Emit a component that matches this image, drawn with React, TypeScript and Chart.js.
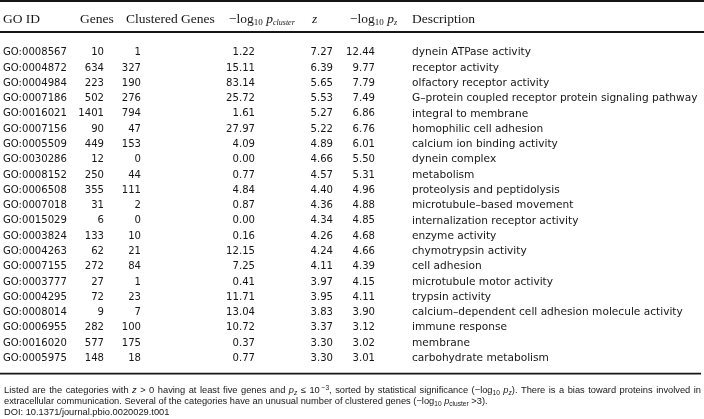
import { useEffect, useRef } from "react";
import { Chart, registerables } from "chart.js";

Chart.register(...registerables);

const goIds = [
  "GO:0008567", "GO:0004872", "GO:0004984", "GO:0007186", "GO:0016021", "GO:0007156", "GO:0005509",
  "GO:0030286", "GO:0008152", "GO:0006508", "GO:0007018", "GO:0015029", "GO:0003824", "GO:0004263",
  "GO:0007155", "GO:0003777", "GO:0004295", "GO:0008014", "GO:0006955", "GO:0016020", "GO:0005975",
];
const genes = [10, 634, 223, 502, 1401, 90, 449, 12, 250, 355, 31, 6, 133, 62, 272, 27, 72, 9, 282, 577, 148];
const clusteredGenes = [1, 327, 190, 276, 794, 47, 153, 0, 44, 111, 2, 0, 10, 21, 84, 1, 23, 7, 100, 175, 18];
const logPCluster = [1.22, 15.11, 83.14, 25.72, 1.61, 27.97, 4.09, 0.0, 0.77, 4.84, 0.87, 0.0, 0.16, 12.15, 7.25, 0.41, 11.71, 13.04, 10.72, 0.37, 0.77];
const zScores = [7.27, 6.39, 5.65, 5.53, 5.27, 5.22, 4.89, 4.66, 4.57, 4.4, 4.36, 4.34, 4.26, 4.24, 4.11, 3.97, 3.95, 3.83, 3.37, 3.3, 3.3];
const logPz = [12.44, 9.77, 7.79, 7.49, 6.86, 6.76, 6.01, 5.5, 5.31, 4.96, 4.88, 4.85, 4.68, 4.66, 4.39, 4.15, 4.11, 3.9, 3.12, 3.02, 3.01];
const descriptions = [
  "dynein ATPase activity",
  "receptor activity",
  "olfactory receptor activity",
  "G\u2013protein coupled receptor protein signaling pathway",
  "integral to membrane",
  "homophilic cell adhesion",
  "calcium ion binding activity",
  "dynein complex",
  "metabolism",
  "proteolysis and peptidolysis",
  "microtubule\u2013based movement",
  "internalization receptor activity",
  "enzyme activity",
  "chymotrypsin activity",
  "cell adhesion",
  "microtubule motor activity",
  "trypsin activity",
  "calcium\u2013dependent cell adhesion molecule activity",
  "immune response",
  "membrane",
  "carbohydrate metabolism",
];
const doiText = "DOI: 10.1371/journal.pbio.0020029.t001";

type Seg = { t: string; f: string; dy?: number };

const INK = "#161616";
const BODY = "10.1px 'DejaVu Sans'";
const BODY_DESC = "10.6px 'DejaVu Sans'";
const HS = 13.5;
const H = `${HS}px 'Liberation Serif'`;
const HI = `italic ${HS}px 'Liberation Serif'`;
const HSUB = "9px 'Liberation Serif'";
const HISUB = "italic 8px 'Liberation Serif'";
const FS = 9.3;
const FN = `${FS}px 'Liberation Sans'`;
const FNI = `italic ${FS}px 'Liberation Sans'`;
const FNS = "6.6px 'Liberation Sans'";
const FNSI = "italic 6.6px 'Liberation Sans'";

function segWidth(ctx: CanvasRenderingContext2D, segs: Seg[]) {
  let w = 0;
  for (const s of segs) {
    ctx.font = s.f;
    w += ctx.measureText(s.t).width;
  }
  return w;
}
function drawSegs(ctx: CanvasRenderingContext2D, segs: Seg[], x: number, y: number, align: "left" | "right" = "left") {
  let cx = align === "right" ? x - segWidth(ctx, segs) : x;
  ctx.textAlign = "left";
  ctx.textBaseline = "alphabetic";
  for (const s of segs) {
    ctx.font = s.f;
    ctx.fillText(s.t, cx, y + (s.dy || 0));
    cx += ctx.measureText(s.t).width;
  }
}
function drawJustified(ctx: CanvasRenderingContext2D, words: Seg[][], x0: number, x1: number, y: number) {
  const widths = words.map((w) => segWidth(ctx, w));
  const total = widths.reduce((a, b) => a + b, 0);
  const gap = (x1 - x0 - total) / (words.length - 1);
  let cx = x0;
  words.forEach((w, i) => {
    drawSegs(ctx, w, cx, y);
    cx += widths[i] + gap;
  });
}

const columns = [
  { values: goIds, anchor: 3, align: "left" as const, font: BODY, fmt: (v: any) => String(v) },
  { values: genes, anchor: 104, align: "right" as const, font: BODY, fmt: (v: any) => String(v) },
  { values: clusteredGenes, anchor: 141, align: "right" as const, font: BODY, fmt: (v: any) => String(v) },
  { values: logPCluster, anchor: 255, align: "right" as const, font: BODY, fmt: (v: any) => v.toFixed(2) },
  { values: zScores, anchor: 333, align: "right" as const, font: BODY, fmt: (v: any) => v.toFixed(2) },
  { values: logPz, anchor: 375, align: "right" as const, font: BODY, fmt: (v: any) => v.toFixed(2) },
  { values: descriptions, anchor: 412, align: "left" as const, font: BODY_DESC, fmt: (v: any) => String(v) },
];

const tablePlugin = {
  id: "tableText",
  beforeDraw(chart: any) {
    const ctx = chart.ctx;
    ctx.save();
    ctx.fillStyle = "#ffffff";
    ctx.fillRect(0, 0, chart.width, chart.height);
    ctx.restore();
  },
  afterDraw(chart: any) {
    const ctx: CanvasRenderingContext2D = chart.ctx;
    const xs = chart.scales.x;
    const ys = chart.scales.y;
    const X = (v: number) => xs.getPixelForValue(v);
    ctx.save();
    ctx.fillStyle = INK;
    ctx.strokeStyle = INK;

    // rules
    ctx.lineWidth = 2;
    ctx.beginPath();
    ctx.moveTo(X(0), 1);
    ctx.lineTo(X(704), 1);
    ctx.stroke();
    ctx.lineWidth = 1.8;
    ctx.beginPath();
    ctx.moveTo(X(0), 32);
    ctx.lineTo(X(704), 32);
    ctx.stroke();
    ctx.beginPath();
    ctx.moveTo(X(0), 373.7);
    ctx.lineTo(X(701), 373.7);
    ctx.stroke();

    // header
    const hy = 22.7;
    drawSegs(ctx, [{ t: "GO ID", f: H }], X(3), hy);
    drawSegs(ctx, [{ t: "Genes", f: H }], X(80), hy);
    drawSegs(ctx, [{ t: "Clustered Genes", f: H }], X(126), hy);
    drawSegs(ctx, [
      { t: "\u2212log", f: H },
      { t: "10", f: HSUB, dy: 2.5 },
      { t: " ", f: H },
      { t: "p", f: HI },
      { t: "cluster", f: HISUB, dy: 2 },
    ], X(229), hy);
    drawSegs(ctx, [{ t: "z", f: HI }], X(312), hy);
    drawSegs(ctx, [
      { t: "\u2212log", f: H },
      { t: "10", f: HSUB, dy: 2.5 },
      { t: " ", f: H },
      { t: "p", f: HI },
      { t: "z", f: HISUB, dy: 2 },
    ], X(350), hy);
    drawSegs(ctx, [{ t: "Description", f: H }], X(412), hy);

    // body cells
    ctx.textBaseline = "middle";
    goIds.forEach((_, i) => {
      const y = ys.getPixelForValue(i);
      columns.forEach((c) => {
        ctx.font = c.font;
        ctx.textAlign = c.align;
        ctx.fillText(c.fmt(c.values[i]), X(c.anchor), y);
      });
    });

    // footnote
    const w = (s: string) => s.split(" ").map((t) => [{ t, f: FN }] as Seg[]);
    const line1: Seg[][] = [
      ...w("Listed are the categories with"),
      [{ t: "z", f: FNI }],
      [{ t: ">", f: FN }],
      [{ t: "0", f: FN }],
      ...w("having at least five genes and"),
      [{ t: "p", f: FNI }, { t: "z", f: FNSI, dy: 2 }],
      [{ t: "\u2264", f: FN }],
      [{ t: "10", f: FN }, { t: " \u22123", f: FNS, dy: -3.5 }, { t: ",", f: FN }],
      ...w("sorted by statistical significance"),
      [{ t: "(\u2212log", f: FN }, { t: "10", f: FNS, dy: 2 }],
      [{ t: "p", f: FNI }, { t: "z", f: FNSI, dy: 2 }, { t: ").", f: FN }],
      ...w("There is a bias toward proteins involved in"),
    ];
    drawJustified(ctx, line1, X(4), X(701), 393);
    drawSegs(ctx, [
      { t: "extracellular communication. Several of the categories have an unusual number of clustered genes (\u2212log", f: FN },
      { t: "10", f: FNS, dy: 2 },
      { t: " ", f: FN },
      { t: "p", f: FNI },
      { t: "cluster", f: FNS, dy: 2 },
      { t: " >3).", f: FN },
    ], X(4), 404);
    drawSegs(ctx, [{ t: doiText, f: FN }], X(4), 414.5);
    ctx.restore();
  },
};

export default function App() {
  const ref = useRef<HTMLCanvasElement>(null);
  useEffect(() => {
    document.body.style.margin = "0";
    const canvas = ref.current;
    if (!canvas) return;
    const chart = new Chart(canvas, {
      type: "scatter",
      data: {
        labels: goIds,
        datasets: [
          {
            data: goIds.map((id) => ({ x: 0, y: id })) as any,
            pointRadius: 0,
            showLine: false,
          },
        ],
      },
      options: {
        responsive: false,
        animation: false,
        devicePixelRatio: 1,
        layout: { padding: { top: 45.1, bottom: 53.1, left: 0, right: 0 } },
        plugins: { legend: { display: false }, tooltip: { enabled: false } },
        scales: {
          x: { type: "linear", min: 0, max: 704, display: false },
          y: { type: "category", labels: goIds, offset: true, display: false },
        },
      },
      plugins: [tablePlugin],
    });
    return () => chart.destroy();
  }, []);
  return (
    <div style={{ width: 704, height: 419, background: "#fff" }}>
      <canvas ref={ref} width={704} height={419} style={{ display: "block" }} />
    </div>
  );
}
